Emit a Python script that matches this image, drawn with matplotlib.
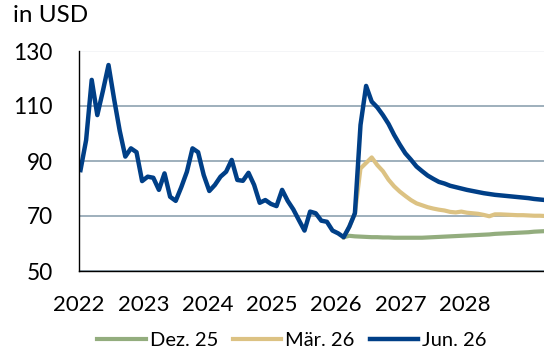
import numpy as np
import matplotlib.pyplot as plt

plt.rcParams['font.family'] = ['Lato', 'DejaVu Sans']

# Monatswerte ab Jan 2022 (Index 0) bis Dez 2025 (Index 47)
history = [86.7, 97.6, 119.5, 106.7, 115.5, 124.9, 112.5, 101.0, 91.6, 94.6, 93.2, 82.7,
           84.3, 83.9, 79.5, 85.5, 77.0, 75.5, 80.5, 86.1, 94.6, 93.2, 84.9, 79.1,
           81.3, 84.3, 86.1, 90.4, 83.1, 82.8, 85.7, 81.3, 74.8, 75.8, 74.4, 73.6,
           79.5, 75.5, 72.4, 68.5, 64.7, 71.6, 71.0, 68.3, 67.9, 64.7, 63.7, 62.3]

# Szenarien ab Dez 2025 (Index 47) bis Dez 2028 (Index 83)
dez25 = [62.3, 62.8, 62.6, 62.5, 62.4, 62.3, 62.3, 62.2, 62.2, 62.1, 62.1, 62.1, 62.1,
         62.1, 62.1, 62.2, 62.3, 62.4, 62.5, 62.6, 62.7, 62.8, 62.9, 63.0, 63.1, 63.2,
         63.3, 63.5, 63.6, 63.7, 63.8, 63.9, 64.0, 64.1, 64.3, 64.4, 64.5]
maer26 = [62.3, 66.1, 71.0, 87.3, 89.3, 91.3, 88.5, 86.3, 83.2, 80.8, 78.9, 77.3, 75.8,
          74.6, 73.9, 73.2, 72.7, 72.3, 72.0, 71.5, 71.3, 71.6, 71.2, 71.0, 70.8, 70.4,
          69.9, 70.6, 70.6, 70.5, 70.4, 70.3, 70.3, 70.2, 70.1, 70.1, 70.0]
jun26 = [62.3, 66.1, 71.0, 103.1, 117.3, 111.6, 109.5, 106.7, 103.5, 99.5, 96.0, 92.8,
         90.5, 88.0, 86.3, 84.7, 83.5, 82.4, 81.8, 81.0, 80.5, 80.0, 79.5, 79.1, 78.7,
         78.3, 78.0, 77.7, 77.5, 77.3, 77.1, 76.9, 76.7, 76.5, 76.2, 76.0, 75.8]

years = ['2022', '2023', '2024', '2025', '2026', '2027', '2028']
y_ticks = [50, 70, 90, 110, 130]

c_green = '#93ad7e'
c_sand = '#dcc283'
c_blue = '#003f87'

x_hist = np.arange(len(history))
x_fc = np.arange(len(history) - 1, len(history) - 1 + len(jun26))

fig = plt.figure(figsize=(5.44, 3.52), dpi=100)
ax = fig.add_axes([79 / 544, 81 / 352, 466.3 / 544, 220 / 352])

ax.plot(x_fc, dez25, color=c_green, lw=3.0, solid_joinstyle='round', label='Dez. 25')
ax.plot(x_fc, maer26, color=c_sand, lw=3.0, solid_joinstyle='round', label='Mär. 26')
ax.plot(np.concatenate([x_hist, x_fc[1:]]), history + jun26[1:], color=c_blue, lw=3.2,
        solid_joinstyle='round', label='Jun. 26')

ax.set_xlim(-0.27, 83)
ax.set_ylim(50, 130)
ax.set_yticks(y_ticks)
ax.set_xticks(np.linspace(-0.25, 68.6, len(years)))
ax.set_xticklabels(years)
ax.tick_params(axis='y', length=0, pad=19, labelsize=16.3)
ax.tick_params(axis='x', length=0, pad=17, labelsize=16)

ax.yaxis.grid(True, color='#8ea2b0', lw=1.2)
ax.get_ygridlines()[-1].set_color('#f2f4f6')
ax.set_axisbelow(True)
for s in ['top', 'right']:
    ax.spines[s].set_visible(False)
ax.spines['left'].set_color('black')
ax.spines['bottom'].set_color('black')
ax.spines['left'].set_linewidth(1.0)
ax.spines['bottom'].set_linewidth(1.0)

fig.text(13 / 544, 1 - 16 / 352, 'in USD', fontsize=17.5, va='center', ha='left')

fig.legend(loc='center', bbox_to_anchor=(292 / 544, 1 - 340 / 352), ncol=3, frameon=False,
           fontsize=14.5, handlelength=2.4, handletextpad=0.2, columnspacing=0.75)

fig.savefig('out.png', dpi=100)
